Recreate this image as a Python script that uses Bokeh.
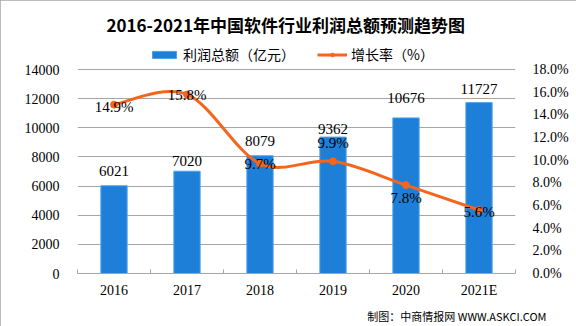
from bokeh.plotting import figure
from bokeh.models import (Range1d, LinearAxis, FixedTicker, PrintfTickFormatter,
                          Legend, LegendItem, Title, ColumnDataSource, CustomJSTickFormatter)
from bokeh.core.properties import value
from bokeh.embed import file_html
from bokeh.resources import INLINE

# ---- data ----
years = ["2016", "2017", "2018", "2019", "2020", "2021E"]
profit = [6021, 7020, 8079, 9362, 10676, 11727]
growth = [14.9, 15.8, 9.7, 9.9, 7.8, 5.6]
profit_ticks = [0, 2000, 4000, 6000, 8000, 10000, 12000, 14000]
growth_ticks = [0, 2, 4, 6, 8, 10, 12, 14, 16, 18]

# ---- label placement (style) ----
bar_label_shift = [-15, -10, -15, -8, -20, -14]
rate_label_shift = [2, 1, 0, -18, 13, 2]

BLUE = "#1e7fd9"
ORANGE = "#f4661d"
GRID = "#a6a6a6"
CJK = "Noto Sans CJK SC"
NUM = "Liberation Serif"

# layout: gridded area is 204px tall, frame extends 29px higher to hold the legend
GRID_H, EXTRA_H = 204, 29
FRAME_H = GRID_H + EXTRA_H
stretch = FRAME_H / GRID_H

xs = [i + 0.5 for i in range(len(years))]
src = ColumnDataSource(dict(
    x=xs, profit=profit, growth=growth,
    profit_txt=[str(v) for v in profit],
    growth_txt=["%.1f%%" % v for v in growth],
    bshift=bar_label_shift, rshift=rate_label_shift,
))

p = figure(width=576, height=326, output_backend="svg", toolbar_location=None,
           x_range=Range1d(0, len(years)),
           y_range=Range1d(profit_ticks[0], profit_ticks[-1] * stretch),
           frame_width=438, frame_height=FRAME_H,
           min_border_left=77, min_border_right=61, min_border_top=40, min_border_bottom=53)
p.extra_y_ranges = {"rate": Range1d(growth_ticks[0], growth_ticks[-1] * stretch)}
p.outline_line_color = None
p.background_fill_color = "white"
p.border_fill_color = "white"
p.styles = {"outline": "1px solid #a6a6a6", "outline-offset": "-1px"}

# title
p.title.text = "2016-2021年中国软件行业利润总额预测趋势图"
p.title.align = "left"
p.title.text_font = CJK
p.title.text_font_size = "17px"
p.title.text_font_style = "bold"
p.title.text_color = "black"
p.title.offset = 29
p.title.standoff = 8

# axes
ly = p.yaxis[0]
ly.ticker = FixedTicker(ticks=profit_ticks)
ly.axis_line_color = None
ly.major_tick_line_color = None
ly.minor_tick_line_color = None
ly.major_label_standoff = 12
ly.major_label_text_font = NUM
ly.major_label_text_font_size = "14px"
ly.major_label_text_color = "black"

ry = LinearAxis(y_range_name="rate", ticker=FixedTicker(ticks=growth_ticks),
                formatter=PrintfTickFormatter(format="%.1f%%"))
ry.axis_line_color = None
ry.major_tick_line_color = None
ry.minor_tick_line_color = None
ry.major_label_standoff = 11
ry.major_label_text_font = NUM
ry.major_label_text_font_size = "14px"
ry.major_label_text_color = "black"
p.add_layout(ry, "right")

bx = p.xaxis[0]
bx.ticker = FixedTicker(ticks=xs, minor_ticks=list(range(len(years) + 1)))
bx.formatter = CustomJSTickFormatter(args=dict(labels=years),
                                     code="return labels[Math.round(tick - 0.5)] || '';")
bx.major_tick_line_color = None
bx.minor_tick_in = 4
bx.minor_tick_out = 0
bx.minor_tick_line_color = GRID
bx.axis_line_color = GRID
bx.major_label_standoff = 3
bx.major_label_text_font = NUM
bx.major_label_text_font_size = "14px"
bx.major_label_text_color = "black"

p.xgrid.visible = False
p.ygrid.ticker = FixedTicker(ticks=profit_ticks)
p.ygrid.grid_line_color = GRID

# bars
bars = p.vbar(x="x", top="profit", width=0.36, fill_color=BLUE, line_color="#4ea2ec",
              line_width=1, source=src)
p.text(x="x", y="profit", text="profit_txt", y_offset="bshift", source=src,
       text_align="center", text_baseline="middle", text_font=value(NUM),
       text_font_size="15px", text_color="black")

# smoothed growth line (Catmull-Rom bezier through the data points)
pts = list(zip(xs, growth))
n = len(pts)
bz = dict(x0=[], y0=[], x1=[], y1=[], cx0=[], cy0=[], cx1=[], cy1=[])
for i in range(n - 1):
    p0 = pts[i - 1] if i > 0 else pts[i]
    p1 = pts[i]
    p2 = pts[i + 1]
    p3 = pts[i + 2] if i + 2 < n else pts[i + 1]
    bz["x0"].append(p1[0]); bz["y0"].append(p1[1])
    bz["x1"].append(p2[0]); bz["y1"].append(p2[1])
    bz["cx0"].append(p1[0] + (p2[0] - p0[0]) / 6); bz["cy0"].append(p1[1] + (p2[1] - p0[1]) / 6)
    bz["cx1"].append(p2[0] - (p3[0] - p1[0]) / 6); bz["cy1"].append(p2[1] - (p3[1] - p1[1]) / 6)
curve = p.bezier(x0="x0", y0="y0", x1="x1", y1="y1", cx0="cx0", cy0="cy0", cx1="cx1", cy1="cy1",
                 source=ColumnDataSource(bz), line_color=ORANGE, line_width=3,
                 y_range_name="rate")
dots = p.scatter(x="x", y="growth", source=src, size=7, fill_color=ORANGE,
                 line_color=ORANGE, y_range_name="rate")
p.text(x="x", y="growth", text="growth_txt", y_offset="rshift", source=src,
       y_range_name="rate", text_align="center", text_baseline="middle",
       text_font=value(NUM), text_font_size="15px", text_color="black")

# legend (inside the upper, ungridded strip of the frame)
legend = Legend(items=[LegendItem(label="利润总额（亿元）", renderers=[bars]),
                       LegendItem(label="增长率（%）", renderers=[curve, dots])],
                orientation="horizontal", location=(72, FRAME_H - 24),
                border_line_color=None, background_fill_alpha=0,
                label_text_font=CJK, label_text_font_size="14px", label_text_color="black",
                glyph_width=30, glyph_height=9, spacing=22, padding=0, margin=0,
                label_standoff=4)
p.add_layout(legend, "center")

# footer
p.add_layout(Title(text="制图：中商情报网 WWW.ASKCI.COM", align="right", offset=-31,
                   text_font=CJK, text_font_size="11px", text_font_style="normal",
                   text_color="black"),
             "below")

open("out.html", "w").write(file_html(p, INLINE))
